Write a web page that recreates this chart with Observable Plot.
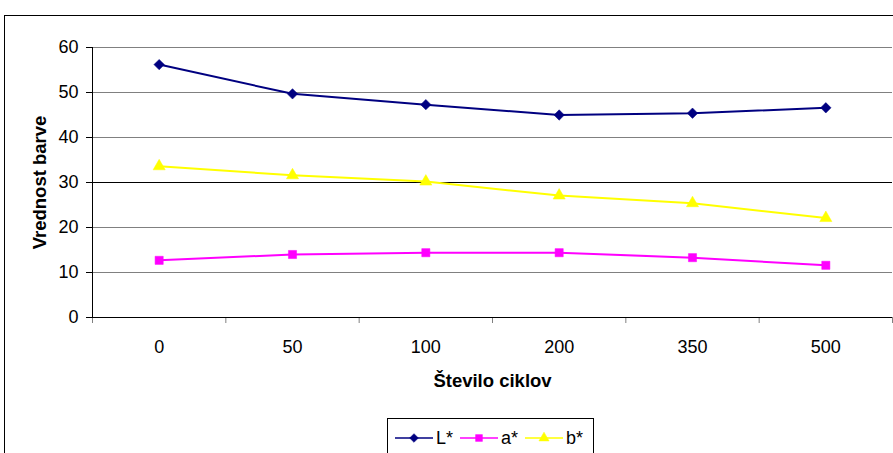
<!DOCTYPE html>
<html><head><meta charset="utf-8">
<script src="https://cdn.jsdelivr.net/npm/d3@7"></script>
<script src="https://cdn.jsdelivr.net/npm/@observablehq/plot@0.6"></script>
<style>
body{margin:0;background:#fff;font-family:"Liberation Sans",Arial,sans-serif;}
#wrap{position:relative;width:893px;height:453px;overflow:hidden;background:#fff;}
#frame{position:absolute;left:4px;top:15px;width:1000px;height:1000px;border:1px solid #000;box-sizing:border-box;}
#chart{position:absolute;left:0;top:0;}
#legend{position:absolute;left:387px;top:418px;width:207px;height:60px;border:1px solid #000;box-sizing:border-box;background:#fff;display:flex;align-items:flex-start;padding:8px 0 0 7px;gap:0;font-size:18px;}
.item{display:flex;align-items:center;margin-right:7px;height:22px;}
.item svg{display:block;margin-right:3px;}
</style></head>
<body><div id="wrap"><div id="frame"></div><div id="chart"></div><div id="legend"></div></div>
<script>
const categories = ["0", "50", "100", "200", "350", "500"];
const seriesNames = ["L*", "a*", "b*"];
const Lvals = [56.2, 49.7, 47.3, 45.0, 45.4, 46.6];
const aVals = [12.7, 14.0, 14.4, 14.4, 13.3, 11.6];
const bVals = [33.6, 31.6, 30.2, 27.1, 25.4, 22.1];
const yTicks = [0, 10, 20, 30, 40, 50, 60];
const colors = ["#000080", "#FF00FF", "#FFFF00"];
const symbols = ["diamond2", "square", "triangle"];
const sizes = [4.7, 4.6, 4.5];

const allVals = [Lvals, aVals, bVals];
const seriesMarks = allVals.flatMap((vals, s) => {
  const d = vals.map((v, i) => ({i, v}));
  return [
    Plot.line(d, {x: "i", y: "v", stroke: colors[s], strokeWidth: 2}),
    Plot.dot(d, {x: "i", y: "v", symbol: symbols[s], r: sizes[s], fill: colors[s], stroke: colors[s], strokeWidth: 0.5})
  ];
});

const chart = Plot.plot({
  width: 893, height: 453,
  marginLeft: 92, marginRight: 1, marginTop: 47, marginBottom: 136,
  x: {type: "linear", domain: [-0.5, categories.length - 0.5], axis: null},
  y: {domain: [0, 60], axis: null},
  style: {fontFamily: "'Liberation Sans', Arial, sans-serif", fontSize: "18px", background: "transparent", color: "#000"},
  marks: [
    Plot.ruleY(yTicks.filter(t => t > 0 && t !== 30), {stroke: "#808080", strokeWidth: 1}),
    Plot.ruleY([30], {stroke: "#000", strokeWidth: 1}),
    Plot.axisY({ticks: yTicks, tickSize: 6, tickPadding: 8, stroke: "#000", strokeOpacity: 1, label: null, fontSize: 18}),
    Plot.ruleX([-0.5], {stroke: "#000"}),
    Plot.axisX({ticks: d3.range(-0.5, categories.length, 1), tickSize: 6, tickFormat: () => "", stroke: "#808080", strokeOpacity: 1, label: null}),
    Plot.axisX({ticks: d3.range(categories.length), tickSize: 0, tickPadding: 23, tickFormat: i => categories[i], label: null, fontSize: 18}),
    Plot.ruleY([0], {stroke: "#000"}),
    ...seriesMarks,
    Plot.text(["Vrednost barve"], {frameAnchor: "left", dx: -52, rotate: -90, textAnchor: "middle", lineAnchor: "middle", fontWeight: "bold", fontSize: 18.5}),
    Plot.text(["Število ciklov"], {frameAnchor: "bottom", dy: 64, textAnchor: "middle", lineAnchor: "middle", fontWeight: "bold", fontSize: 18.5})
  ]
});
document.getElementById("chart").appendChild(chart);

// legend
const legend = d3.select("#legend");
seriesNames.forEach((name, s) => {
  const it = legend.append("div").attr("class", "item");
  const svg = it.append("svg").attr("width", 38).attr("height", 14);
  svg.append("line").attr("x1", 0).attr("x2", 38).attr("y1", 7).attr("y2", 7).attr("stroke", colors[s]).attr("stroke-width", 1.5);
  const symMap = {diamond2: d3.symbolDiamond2, square: d3.symbolSquare, triangle: d3.symbolTriangle};
  svg.append("path").attr("transform", "translate(19,7)")
    .attr("d", d3.symbol(symMap[symbols[s]], Math.PI * sizes[s] * sizes[s] * 0.7)())
    .attr("fill", colors[s]).attr("stroke", colors[s]).attr("stroke-width", 0.5);
  it.append("span").text(name);
});
</script></body></html>
